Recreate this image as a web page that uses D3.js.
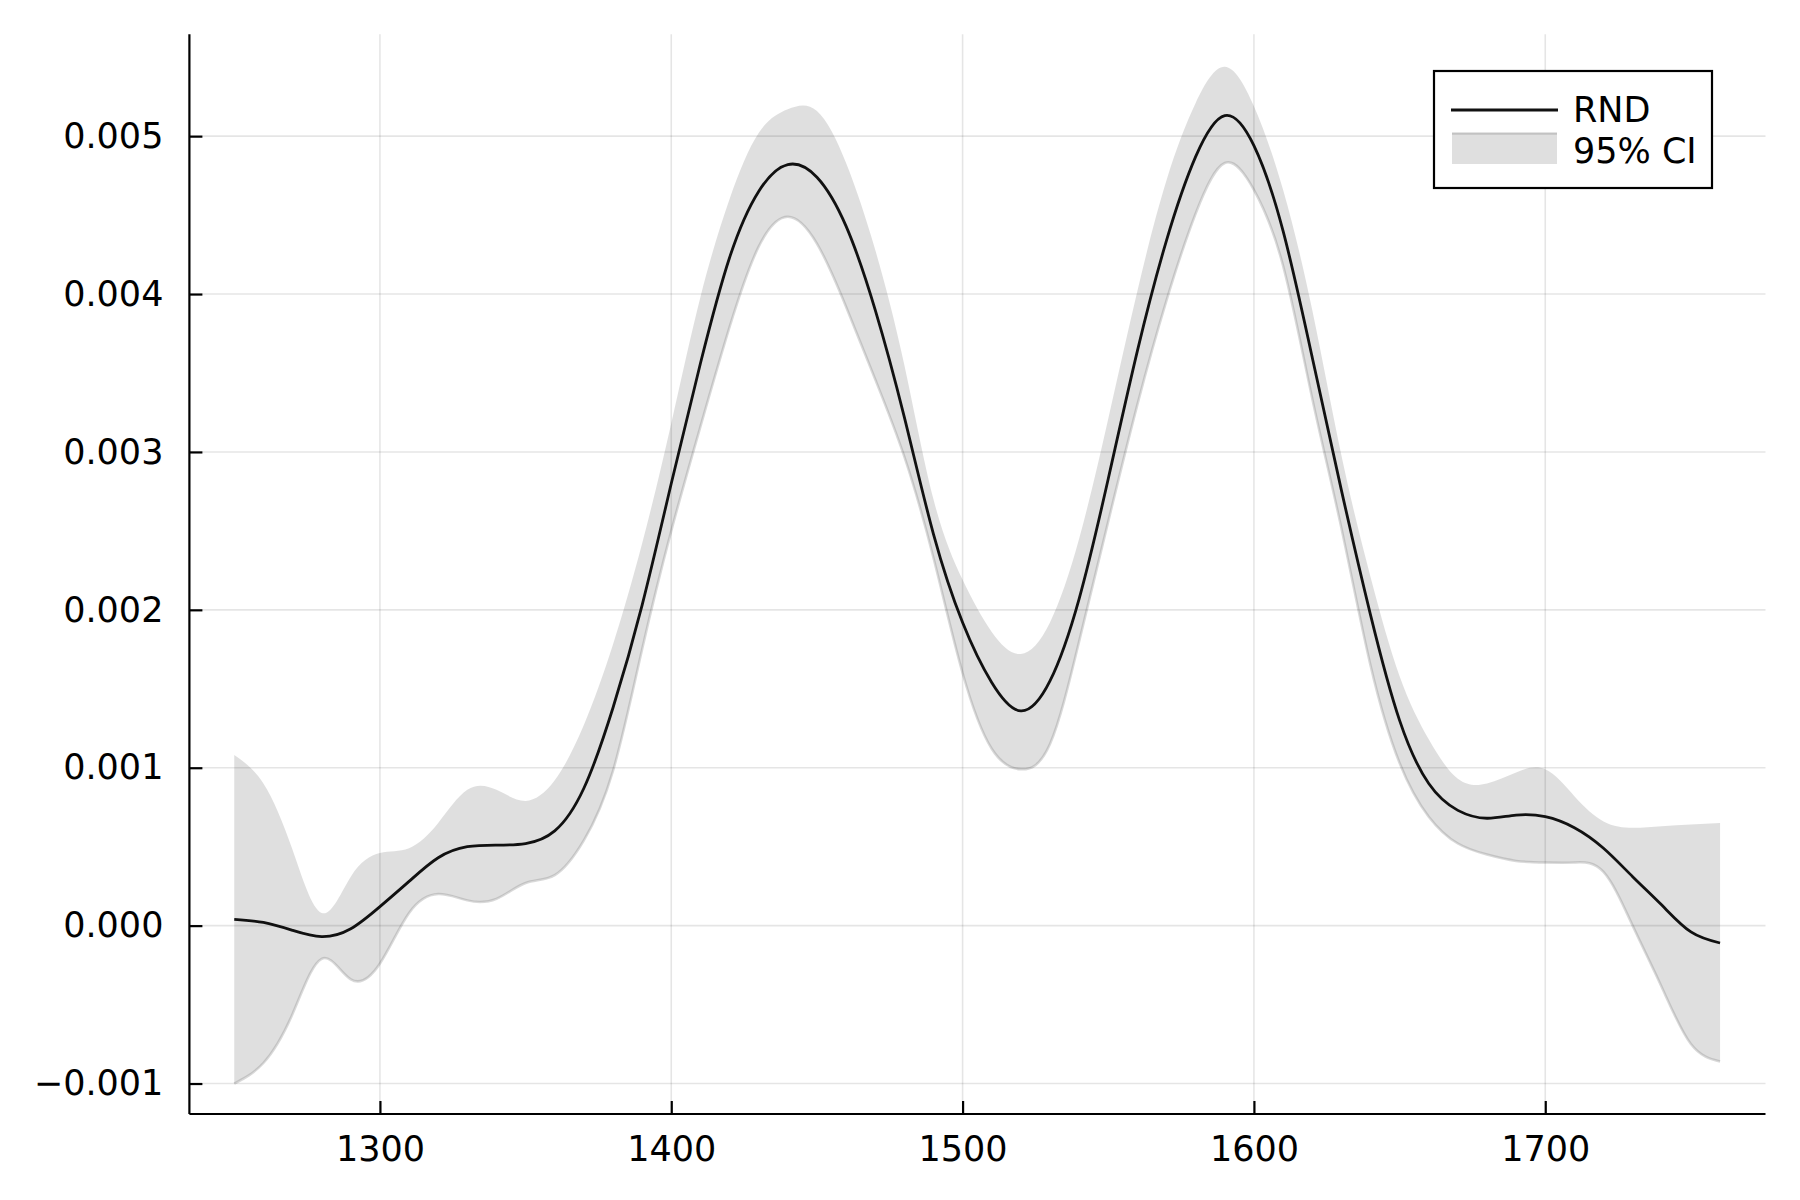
<!DOCTYPE html>
<html>
<head>
<meta charset="utf-8">
<script src="https://cdn.jsdelivr.net/npm/d3@7"></script>
<style>
  body { margin: 0; background: #fff; }
  svg { font-family: "DejaVu Sans", sans-serif; }
</style>
</head>
<body>
<svg width="1800" height="1200"></svg>
<script>
// x positions of the estimate
var xs = [1250, 1260, 1270, 1280, 1290, 1300, 1310, 1320, 1330, 1340, 1350, 1360, 1370,
          1380, 1390, 1400, 1410, 1420, 1430, 1440, 1450, 1460, 1470, 1480, 1490, 1500,
          1510, 1520, 1530, 1540, 1550, 1560, 1570, 1580, 1590, 1600, 1610, 1620, 1630,
          1640, 1650, 1660, 1670, 1680, 1690, 1700, 1710, 1720, 1730, 1740, 1750, 1760];

// RND point estimate
var rnd = [0.00004, 0.00002, -0.00003, -0.00007, -0.00002, 0.00012, 0.00028, 0.00043, 0.00050,
           0.00051, 0.00052, 0.00060, 0.00087, 0.00138, 0.00203, 0.00280, 0.00356, 0.00423,
           0.00465, 0.00482, 0.00474, 0.00443, 0.00390, 0.00322, 0.00248, 0.00192, 0.00154,
           0.00136, 0.00155, 0.00207, 0.00283, 0.00364, 0.00434, 0.00487, 0.00513, 0.00494,
           0.00440, 0.00360, 0.00276, 0.00197, 0.00130, 0.00090, 0.00073, 0.00068, 0.00070,
           0.00069, 0.00062, 0.00049, 0.00031, 0.00013, -0.00004, -0.00011];

// 95% CI bounds
var ciUpper = [0.00108, 0.00090, 0.00048, 0.00008, 0.00031, 0.00046, 0.00049, 0.00065, 0.00086,
               0.00086, 0.00079, 0.00092, 0.00127, 0.00178, 0.00242, 0.00318, 0.00398, 0.00460,
               0.00502, 0.00517, 0.00516, 0.00483, 0.00428, 0.00355, 0.00270, 0.00219, 0.00186,
               0.00172, 0.00192, 0.00245, 0.00321, 0.00402, 0.00472, 0.00521, 0.00544, 0.00519,
               0.00466, 0.00390, 0.00298, 0.00221, 0.00158, 0.00118, 0.00093, 0.00090, 0.00097,
               0.00099, 0.00082, 0.00066, 0.00062, 0.00063, 0.00064, 0.00065];

var ciLower = [-0.00100, -0.00087, -0.00056, -0.00021, -0.00034, -0.00024, 0.00008, 0.00020, 0.00016,
               0.00017, 0.00027, 0.00032, 0.00054, 0.00098, 0.00175, 0.00250, 0.00316, 0.00379,
               0.00430, 0.00449, 0.00432, 0.00392, 0.00346, 0.00297, 0.00233, 0.00160, 0.00112,
               0.00099, 0.00115, 0.00180, 0.00256, 0.00330, 0.00396, 0.00451, 0.00483, 0.00466,
               0.00418, 0.00334, 0.00252, 0.00165, 0.00103, 0.00069, 0.00052, 0.00045, 0.00041,
               0.00040, 0.00040, 0.00034, 0.00000, -0.00039, -0.00075, -0.00086];

var xTicks = [1300, 1400, 1500, 1600, 1700];
var yTicks = [-0.001, 0.000, 0.001, 0.002, 0.003, 0.004, 0.005];
var seriesNames = ["RND", "95% CI"];

var data = xs.map((x, i) => ({x: x, mid: rnd[i], lo: ciLower[i], hi: ciUpper[i]}));

var plotLeft = 189.4, plotRight = 1765.5, plotTop = 34.3, plotBottom = 1114;
var fontSize = 35;

var xScale = d3.scaleLinear().domain([1234.6, 1775.6]).range([plotLeft, plotRight]);
var yScale = d3.scaleLinear().domain([-0.001193, 0.005645]).range([plotBottom, plotTop]);

var svg = d3.select("svg");

// ribbon
var band = d3.area()
    .curve(d3.curveNatural)
    .x(d => xScale(d.x))
    .y0(d => yScale(d.lo))
    .y1(d => yScale(d.hi));

svg.append("path")
    .datum(data)
    .attr("d", band)
    .attr("fill", "rgb(128,128,128)")
    .attr("fill-opacity", 0.25);

svg.append("path")
    .datum(data)
    .attr("d", d3.line().curve(d3.curveNatural).x(d => xScale(d.x)).y(d => yScale(d.lo)))
    .attr("fill", "none")
    .attr("stroke", "rgba(128,128,128,0.3)")
    .attr("stroke-width", 2.5);

// grid
var grid = svg.append("g").attr("stroke", "rgba(0,0,0,0.1)").attr("stroke-width", 1.6);
grid.selectAll(".vgrid")
    .data(xTicks)
    .enter()
    .append("line")
        .attr("x1", d => xScale(d)).attr("x2", d => xScale(d))
        .attr("y1", plotTop).attr("y2", plotBottom);
grid.selectAll(".hgrid")
    .data(yTicks)
    .enter()
    .append("line")
        .attr("x1", plotLeft).attr("x2", plotRight)
        .attr("y1", d => yScale(d)).attr("y2", d => yScale(d));

// RND line
svg.append("path")
    .datum(data)
    .attr("d", d3.line().curve(d3.curveNatural).x(d => xScale(d.x)).y(d => yScale(d.mid)))
    .attr("fill", "none")
    .attr("stroke", "#111")
    .attr("stroke-width", 2.8);

// axes
var xAxis = d3.axisBottom(xScale)
    .tickValues(xTicks)
    .tickSizeInner(-13)
    .tickSizeOuter(0)
    .tickPadding(22)
    .tickFormat(d3.format("d"));

var yAxis = d3.axisLeft(yScale)
    .tickValues(yTicks)
    .tickSizeInner(-13)
    .tickSizeOuter(0)
    .tickPadding(26)
    .tickFormat(d => (d < 0 ? "\u2212" : "") + d3.format(".3f")(Math.abs(d)));

var gx = svg.append("g").attr("transform", "translate(0," + plotBottom + ")").call(xAxis);
var gy = svg.append("g").attr("transform", "translate(" + plotLeft + ",0)").call(yAxis);

[gx, gy].forEach(g => {
    g.select(".domain").attr("stroke", "#000").attr("stroke-width", 2.2);
    g.selectAll(".tick line").attr("stroke", "#000").attr("stroke-width", 2.2);
    g.selectAll(".tick text")
        .attr("fill", "#000")
        .style("font-size", fontSize + "px")
        .style("font-family", "DejaVu Sans");
});
gx.select(".domain").attr("d", "M" + plotLeft + ",0H" + plotRight);
gy.select(".domain").attr("d", "M0," + plotBottom + "V" + plotTop);

// legend
var legend = svg.append("g");
legend.append("rect")
    .attr("x", 1434).attr("y", 71)
    .attr("width", 278).attr("height", 117)
    .attr("fill", "#fff")
    .attr("stroke", "#000")
    .attr("stroke-width", 2.2);

legend.append("line")
    .attr("x1", 1451).attr("x2", 1558)
    .attr("y1", 110).attr("y2", 110)
    .attr("stroke", "#111")
    .attr("stroke-width", 2.8);

legend.append("rect")
    .attr("x", 1452).attr("y", 133)
    .attr("width", 105).attr("height", 31)
    .attr("fill", "rgb(128,128,128)")
    .attr("fill-opacity", 0.25);
legend.append("line")
    .attr("x1", 1452).attr("x2", 1557)
    .attr("y1", 133.5).attr("y2", 133.5)
    .attr("stroke", "rgba(128,128,128,0.3)")
    .attr("stroke-width", 2.5);

legend.selectAll(".label")
    .data(seriesNames)
    .enter()
    .append("text")
        .attr("x", 1573)
        .attr("y", (d, i) => i == 0 ? 122 : 163)
        .style("font-size", fontSize + "px")
        .attr("fill", "#000")
        .text(d => d);
</script>
</body>
</html>
